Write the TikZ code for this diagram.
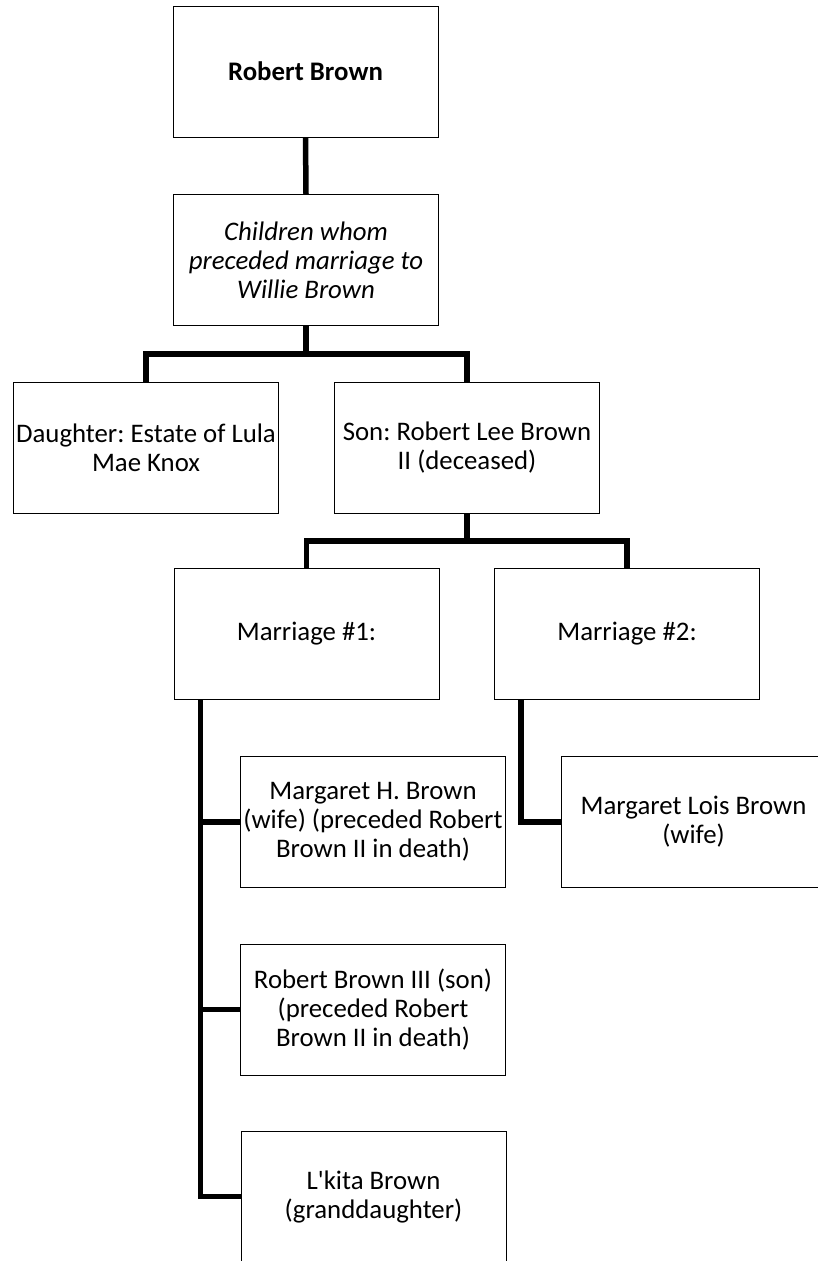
\documentclass[tikz,border=0pt]{standalone}
\usepackage{fontspec}
\setmainfont{Carlito}[Ligatures=TeXOff]
\frenchspacing
\usetikzlibrary{calc,positioning}
\tikzset{
    every node/.style={font=\fontsize{26.8}{29}\selectfont},
    person node/.style={shape=rectangle, draw=black, line width=1pt,
        align=center, inner sep=2pt,
        minimum width=265pt, minimum height=131pt},
    link/.style={line width=5.5pt, line join=miter}
}

\begin{document}
\begin{tikzpicture}[x=1pt,y=-1pt]
    \useasboundingbox (0,0) rectangle (817,1261);

    \node[person node] (1) at (305.5,71.5) {\textbf{Robert Brown}};
    \node[person node] (2) at (306,260) {\itshape Children whom\\ \itshape preceded marriage to\\ \itshape Willie Brown};
    \node[person node] (3) at (146,447.5) {Daughter: Estate of Lula\\Mae Knox};
    \node[person node] (4) at (467,448) {Son: Robert Lee Brown\\II (deceased)};
    \node[person node] (5) at (306.5,634) {Marriage \#1:};
    \node[person node] (6) at (627,634) {Marriage \#2:};
    \node[person node] (7) at (373,822) {Margaret H. Brown\\(wife) (preceded Robert\\Brown II in death)};
    \node[person node] (8) at (693.5,822) {Margaret Lois Brown\\(wife)};
    \node[person node] (9) at (373,1009.5) {Robert Brown III (son)\\(preceded Robert\\Brown II in death)};
    \node[person node] (10) at (373.5,1196.5) {L'kita Brown\\(granddaughter)};

    % tree links
    \draw[link] (1.south) -- (2.north);
    \draw[link] (2.south) |- ($(2.south)!.5!(3.north)$) -| (3.north);
    \draw[link] (2.south) |- ($(2.south)!.5!(4.north)$) -| (4.north);
    \draw[link] (4.south) |- ($(4.south)!.5!(5.north)$) -| (5.north);
    \draw[link] (4.south) |- ($(4.south)!.5!(6.north)$) -| (6.north);

    % side branches
    \draw[link] ([xshift=27pt]5.south west) |- (7.west);
    \draw[link] ([xshift=27pt]5.south west) |- (9.west);
    \draw[link] ([xshift=27pt]5.south west) |- (10.west);
    \draw[link] ([xshift=27pt]6.south west) |- (8.west);

\end{tikzpicture}
\end{document}
